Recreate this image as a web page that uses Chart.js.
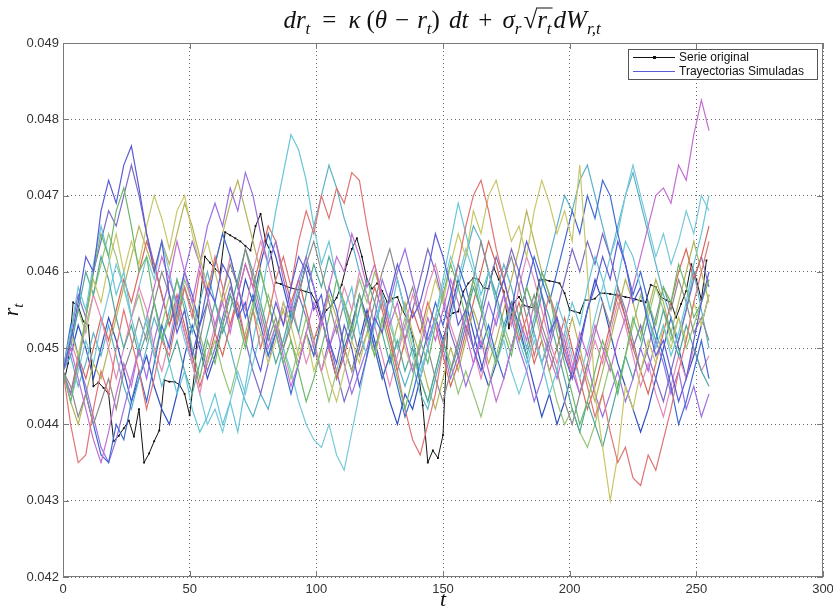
<!DOCTYPE html>
<html>
<head>
<meta charset="utf-8">
<script src="https://cdn.jsdelivr.net/npm/chart.js@4.4.1/dist/chart.umd.min.js"></script>
<style>
  html, body { margin: 0; padding: 0; background: #fff; }
  #c { display: block; }
</style>
</head>
<body>
<canvas id="c" width="833" height="608" style="width:833px;height:608px"></canvas>
<script>
// values are stored in units of 1e-5 (4470 -> 0.04470)
const VALUE_UNIT = 1e-5;
const STEP_ORIG = 2;   // t spacing of the original series samples
const STEP_SIM = 3;    // t spacing of the simulated trajectory samples

const X_TICKS = [0, 50, 100, 150, 200, 250, 300];
const Y_TICKS = [0.042, 0.043, 0.044, 0.045, 0.046, 0.047, 0.048, 0.049];

const serieOriginal = [
  4450,4480,4560,4555,4535,4530,4450,4455,4448,4440,
  4378,4385,4395,4405,4384,4420,4350,4362,4378,4392,
  4458,4456,4456,4452,4440,4412,4470,4560,4620,4612,
  4604,4598,4652,4648,4644,4640,4634,4628,4660,4676,
  4640,4626,4586,4584,4581,4579,4577,4576,4574,4572,
  4560,4537,4550,4556,4566,4583,4610,4630,4644,4620,
  4590,4578,4585,4575,4560,4565,4567,4550,4537,4515,
  4475,4425,4350,4366,4356,4386,4540,4546,4548,4574,
  4585,4592,4590,4579,4578,4606,4590,4574,4526,4560,
  4567,4556,4554,4553,4589,4590,4588,4587,4585,4572,
  4550,4548,4546,4563,4563,4565,4572,4572,4571,4570,
  4569,4567,4566,4564,4562,4560,4583,4580,4567,4563,
  4560,4540,4558,4575,4610,4590,4563,4615
];

const sim01 = [4470,4510,4560,4620,4600,4680,4720,4690,4740,4765,4710,4650,4600,4640,4570,4520,4550,4490,4530,4580,4560,4610,4590,4540,4560,4500,4470,4520,4560,4530,4580,4620,4600,4550,4570,4510,4480,4530,4500,4450,4490,4540,4520,4570,4610,4580,4540,4560,4600,4650,4620,4580,4530,4550,4500,4470,4510,4560,4590,4550,4600,4640,4610,4570,4520,4540,4490,4460,4500,4550,4580,4620,4590,4640,4610,4560,4580,4530,4490,4510,4470,4430,4460,4510,4560,4600];
const sim02 = [4470,4430,4480,4540,4600,4650,4620,4680,4710,4660,4600,4620,4560,4510,4540,4590,4550,4500,4460,4510,4480,4530,4570,4540,4500,4550,4600,4560,4520,4480,4510,4470,4430,4460,4500,4540,4590,4560,4520,4570,4530,4490,4540,4500,4460,4420,4460,4510,4480,4530,4570,4610,4580,4540,4590,4550,4510,4480,4520,4490,4540,4580,4550,4600,4570,4520,4480,4440,4400,4430,4470,4510,4480,4440,4490,4540,4510,4560,4530,4580,4560,4610,4580,4540,4560,4590];
const sim03 = [4470,4400,4350,4360,4420,4470,4440,4500,4550,4510,4470,4420,4460,4510,4490,4540,4580,4540,4600,4570,4620,4580,4530,4560,4510,4550,4500,4540,4590,4620,4580,4640,4680,4650,4700,4670,4710,4690,4730,4720,4660,4610,4560,4520,4470,4420,4380,4360,4400,4440,4500,4560,4610,4660,4700,4720,4680,4630,4590,4550,4510,4540,4490,4530,4570,4540,4500,4460,4490,4450,4410,4440,4390,4350,4370,4330,4320,4360,4340,4380,4420,4470,4510,4560,4600,4640];
const sim04 = [4470,4520,4580,4550,4610,4660,4620,4570,4600,4540,4500,4540,4490,4450,4480,4440,4470,4420,4390,4410,4440,4400,4430,4390,4450,4510,4560,4620,4680,4730,4780,4760,4720,4660,4610,4640,4590,4550,4580,4520,4490,4530,4570,4540,4590,4550,4510,4470,4500,4540,4590,4640,4690,4650,4610,4570,4600,4560,4520,4550,4510,4480,4520,4480,4440,4470,4520,4560,4530,4580,4620,4590,4550,4590,4640,4620,4580,4540,4500,4530,4490,4520,4560,4610,4650,4700];
const sim05 = [4470,4500,4460,4420,4380,4350,4390,4440,4480,4450,4500,4540,4580,4620,4590,4640,4600,4560,4610,4570,4530,4560,4520,4570,4610,4580,4540,4500,4530,4490,4450,4480,4520,4560,4530,4580,4620,4600,4650,4620,4580,4610,4570,4530,4560,4510,4470,4500,4540,4510,4550,4590,4560,4520,4480,4510,4470,4430,4460,4500,4540,4510,4560,4520,4490,4460,4500,4470,4520,4490,4530,4500,4470,4510,4540,4580,4620,4660,4700,4710,4690,4740,4720,4780,4825,4785];
const sim06 = [4470,4520,4490,4540,4590,4560,4610,4650,4600,4640,4610,4660,4700,4670,4630,4680,4700,4650,4610,4640,4600,4560,4590,4540,4510,4550,4520,4480,4510,4560,4530,4490,4520,4470,4500,4460,4430,4470,4510,4480,4520,4490,4530,4570,4540,4500,4470,4510,4550,4590,4560,4610,4650,4620,4680,4650,4700,4720,4680,4640,4660,4620,4680,4720,4690,4650,4680,4640,4740,4600,4440,4370,4300,4360,4450,4420,4470,4510,4480,4530,4500,4540,4510,4560,4530,4570];
const sim07 = [4470,4450,4410,4440,4400,4430,4460,4420,4470,4500,4540,4510,4560,4600,4570,4530,4580,4550,4510,4560,4520,4570,4610,4580,4630,4590,4550,4510,4540,4500,4530,4570,4610,4640,4600,4560,4520,4560,4530,4490,4520,4560,4600,4630,4590,4550,4580,4540,4500,4460,4430,4470,4510,4550,4590,4640,4600,4560,4590,4620,4580,4540,4570,4530,4500,4470,4430,4400,4440,4480,4520,4560,4530,4580,4550,4510,4470,4500,4540,4580,4550,4590,4560,4520,4540,4510];
const sim08 = [4470,4530,4490,4440,4400,4360,4350,4400,4380,4430,4470,4430,4480,4530,4500,4550,4600,4570,4530,4560,4610,4650,4620,4580,4540,4570,4530,4490,4520,4480,4440,4480,4520,4490,4540,4580,4550,4500,4530,4570,4540,4500,4460,4490,4450,4410,4440,4480,4520,4560,4530,4570,4610,4580,4540,4500,4530,4490,4460,4500,4540,4580,4620,4590,4560,4600,4640,4680,4650,4700,4670,4720,4700,4650,4610,4570,4600,4560,4520,4490,4450,4400,4430,4470,4510,4460];
const sim09 = [4470,4440,4480,4450,4410,4370,4350,4380,4420,4460,4500,4460,4510,4550,4590,4560,4600,4640,4610,4660,4690,4660,4710,4680,4730,4700,4650,4610,4640,4590,4550,4590,4620,4580,4540,4500,4530,4480,4440,4470,4500,4540,4590,4560,4600,4630,4590,4550,4510,4540,4500,4460,4490,4450,4480,4520,4560,4530,4570,4540,4500,4470,4430,4460,4500,4540,4510,4470,4440,4480,4440,4410,4440,4470,4430,4460,4500,4470,4510,4480,4440,4470,4420,4450,4410,4440];
const sim10 = [4470,4500,4550,4600,4570,4620,4590,4540,4500,4530,4490,4520,4560,4520,4480,4510,4470,4440,4480,4520,4560,4520,4550,4590,4630,4600,4560,4520,4480,4510,4550,4520,4570,4610,4580,4620,4590,4550,4510,4550,4590,4560,4520,4480,4510,4470,4500,4460,4430,4470,4510,4470,4500,4540,4580,4550,4600,4570,4530,4560,4520,4490,4530,4570,4540,4500,4460,4420,4390,4430,4400,4370,4410,4450,4490,4460,4500,4540,4510,4550,4520,4490,4530,4500,4470,4450];
const sim11 = [4470,4510,4480,4530,4570,4540,4500,4460,4500,4540,4580,4550,4500,4470,4510,4560,4520,4480,4440,4490,4530,4570,4620,4580,4550,4600,4640,4610,4570,4530,4560,4520,4480,4510,4470,4500,4540,4580,4550,4600,4570,4530,4490,4450,4490,4530,4570,4540,4580,4610,4570,4530,4500,4540,4500,4460,4500,4540,4570,4530,4580,4620,4590,4550,4510,4480,4520,4480,4440,4470,4510,4480,4520,4560,4530,4490,4450,4480,4440,4410,4450,4490,4460,4500,4470,4490];
const sim12 = [4470,4430,4470,4510,4480,4530,4570,4610,4580,4540,4580,4620,4590,4640,4600,4550,4510,4480,4440,4400,4420,4390,4430,4470,4440,4480,4520,4490,4530,4500,4470,4430,4400,4380,4370,4400,4360,4340,4390,4440,4490,4530,4570,4540,4500,4530,4490,4460,4500,4540,4580,4620,4590,4630,4600,4560,4520,4480,4510,4470,4440,4470,4510,4480,4520,4560,4530,4490,4460,4500,4540,4580,4620,4650,4700,4740,4700,4660,4620,4650,4610,4640,4680,4650,4700,4680];
const sim13 = [4470,4510,4550,4520,4570,4610,4650,4620,4580,4540,4570,4530,4490,4530,4570,4540,4590,4560,4520,4480,4510,4470,4440,4480,4520,4560,4530,4570,4540,4500,4460,4500,4540,4510,4470,4430,4470,4510,4550,4590,4560,4600,4570,4530,4500,4540,4500,4460,4430,4470,4510,4480,4440,4470,4440,4410,4450,4490,4530,4500,4540,4580,4550,4510,4470,4430,4400,4420,4390,4370,4400,4440,4480,4450,4490,4530,4570,4540,4580,4550,4510,4540,4500,4530,4560,4590];
const sim14 = [4470,4440,4490,4460,4500,4540,4510,4550,4590,4560,4600,4640,4610,4570,4530,4570,4530,4490,4450,4480,4520,4490,4530,4570,4610,4580,4620,4660,4640,4600,4560,4590,4550,4510,4540,4500,4460,4490,4530,4570,4540,4580,4550,4510,4470,4510,4550,4520,4560,4530,4490,4450,4480,4520,4560,4600,4640,4610,4570,4530,4560,4520,4480,4510,4470,4500,4540,4500,4460,4420,4450,4490,4530,4570,4540,4500,4470,4440,4480,4520,4560,4600,4630,4590,4620,4660];
const sim15 = [4470,4520,4570,4540,4600,4640,4680,4660,4700,4740,4700,4650,4610,4570,4530,4560,4520,4480,4510,4470,4500,4540,4580,4550,4510,4470,4440,4480,4520,4560,4530,4570,4540,4500,4470,4510,4470,4430,4460,4500,4540,4500,4530,4570,4540,4510,4550,4590,4630,4600,4560,4520,4490,4530,4500,4540,4580,4620,4590,4630,4600,4560,4520,4480,4510,4550,4590,4630,4600,4640,4610,4650,4620,4580,4540,4500,4530,4490,4460,4430,4470,4510,4550,4590,4620,4580];
const sim16 = [4470,4490,4450,4480,4520,4490,4530,4490,4450,4420,4460,4500,4540,4510,4550,4590,4560,4520,4560,4600,4560,4530,4500,4460,4430,4410,4440,4420,4460,4500,4540,4580,4620,4660,4700,4740,4710,4670,4640,4600,4570,4530,4560,4520,4480,4450,4480,4440,4420,4460,4500,4540,4580,4620,4660,4640,4600,4570,4610,4580,4540,4500,4540,4580,4620,4660,4700,4680,4720,4740,4700,4660,4620,4660,4700,4730,4690,4650,4610,4570,4540,4510,4550,4600,4550,4500];
const sim17 = [4470,4430,4400,4440,4480,4460,4500,4540,4580,4620,4660,4630,4600,4640,4610,4650,4690,4660,4620,4580,4610,4650,4690,4720,4680,4640,4600,4560,4520,4550,4510,4480,4520,4490,4530,4570,4540,4500,4470,4500,4540,4500,4460,4490,4530,4560,4520,4490,4450,4420,4460,4500,4470,4510,4550,4520,4480,4510,4550,4590,4630,4680,4640,4600,4570,4530,4500,4540,4500,4460,4430,4470,4510,4550,4590,4560,4520,4550,4590,4560,4520,4560,4600,4640,4600,4560];
const sim18 = [4470,4490,4530,4500,4460,4500,4540,4510,4470,4430,4460,4490,4450,4420,4400,4440,4490,4530,4500,4460,4490,4530,4570,4540,4590,4560,4610,4650,4620,4580,4540,4570,4610,4580,4540,4500,4460,4500,4470,4510,4550,4510,4470,4430,4400,4440,4420,4460,4500,4540,4510,4550,4590,4560,4520,4480,4450,4480,4520,4560,4530,4490,4450,4410,4440,4400,4430,4470,4510,4550,4590,4560,4520,4480,4450,4420,4390,4420,4460,4500,4540,4500,4460,4490,4530,4570];

const simSeries = [sim01, sim02, sim03, sim04, sim05, sim06, sim07, sim08, sim09,
                   sim10, sim11, sim12, sim13, sim14, sim15, sim16, sim17, sim18];
const simColors = ['#5b5bd6', '#6db86d', '#e07474', '#66c6d8', '#c36fd3', '#c9c66a',
                   '#8c8c8c', '#3f6ad2', '#9b70e0', '#4fa899', '#e38bb8', '#79c9d9',
                   '#97c477', '#d8675a', '#7d6cc4', '#5cb2c8', '#b4b35a', '#3050c2'];

const LEGEND_LABELS = ['Serie original', 'Trayectorias Simuladas'];

// title formula pieces: [text, style, underRadical]; style 'g' is a gap in px
const TITLE_PARTS = [
  ['dr', 'i'], ['t', 's'], [12, 'g'], ['=', 'r'], [12, 'g'], ['\u03BA', 'i'], [6, 'g'],
  ['(', 'r'], ['\u03B8', 'i'], [8, 'g'], ['\u2212', 'r'], [8, 'g'], ['r', 'i'], ['t', 's'],
  [')', 'r'], [9, 'g'], ['dt', 'i'], [10, 'g'], ['+', 'r'], [10, 'g'],
  ['\u03C3', 'i'], ['r', 's'], [2, 'g'], ['\u221A', 'r'], ['r', 'i', true], ['t', 's', true],
  [2, 'g'], ['dW', 'i'], ['r,t', 's']
];

const toPoints = (arr, step) => arr.map((v, i) => ({ x: i * step, y: v * VALUE_UNIT }));

const SERIF = '"Liberation Serif", "DejaVu Serif", serif';
const SANS = '"Liberation Sans", Arial, sans-serif';

function drawRich(ctx, parts, cx, baseY, big, small) {
  const fonts = {
    i: `italic ${big}px ${SERIF}`,
    r: `${big}px ${SERIF}`,
    s: `italic ${small}px ${SERIF}`
  };
  let w = 0;
  const items = parts.map(([txt, st, bar]) => {
    let m;
    if (st === 'g') {
      m = txt;
    } else {
      ctx.font = fonts[st];
      m = ctx.measureText(txt).width;
    }
    const it = { txt, st, bar, x: w, w: m };
    w += m;
    return it;
  });
  const x0 = cx - w / 2;
  ctx.textAlign = 'left';
  ctx.textBaseline = 'alphabetic';
  let barStart = null, barEnd = null;
  items.forEach(it => {
    if (it.st === 'g') return;
    ctx.font = fonts[it.st];
    ctx.fillText(it.txt, x0 + it.x, baseY + (it.st === 's' ? big * 0.22 : 0));
    if (it.bar) {
      if (barStart === null) barStart = x0 + it.x;
      barEnd = x0 + it.x + it.w;
    }
  });
  if (barStart !== null) {
    ctx.lineWidth = 1;
    ctx.beginPath();
    ctx.moveTo(barStart - 1, baseY - big * 0.8);
    ctx.lineTo(barEnd + 1, baseY - big * 0.8);
    ctx.stroke();
  }
}

const decorPlugin = {
  id: 'decor',
  afterDraw(chart) {
    const { ctx, chartArea: a, scales: { x, y } } = chart;
    ctx.save();

    // axes box and inward tick marks
    ctx.strokeStyle = '#7a7a7a';
    ctx.lineWidth = 1;
    ctx.strokeRect(a.left + 0.5, a.top + 0.5, a.right - a.left - 1, a.bottom - a.top - 1);
    ctx.beginPath();
    x.ticks.forEach(t => {
      const px = Math.round(x.getPixelForValue(t.value)) + 0.5;
      ctx.moveTo(px, a.bottom); ctx.lineTo(px, a.bottom - 6);
      ctx.moveTo(px, a.top); ctx.lineTo(px, a.top + 6);
    });
    y.ticks.forEach(t => {
      const py = Math.round(y.getPixelForValue(t.value)) + 0.5;
      ctx.moveTo(a.left, py); ctx.lineTo(a.left + 6, py);
      ctx.moveTo(a.right, py); ctx.lineTo(a.right - 6, py);
    });
    ctx.stroke();

    // title
    ctx.fillStyle = '#111';
    ctx.strokeStyle = '#111';
    drawRich(ctx, TITLE_PARTS, 442, 28, 25, 17);

    // axis labels
    drawRich(ctx, [['t', 'i']], (a.left + a.right) / 2, 606, 22, 15);
    ctx.save();
    ctx.translate(18, (a.top + a.bottom) / 2);
    ctx.rotate(-Math.PI / 2);
    drawRich(ctx, [['r', 'i'], ['t', 's']], 0, 0, 22, 15);
    ctx.restore();

    // legend
    const lw = 189, lh = 30;
    const lx = a.right - 6 - lw, ly = a.top + 6;
    ctx.fillStyle = '#fff';
    ctx.fillRect(lx, ly, lw, lh);
    ctx.strokeStyle = '#555';
    ctx.strokeRect(lx + 0.5, ly + 0.5, lw, lh);
    const rows = [ly + 8, ly + 22];
    const colors = ['#111', simColors[0]];
    ctx.font = `12px ${SANS}`;
    ctx.textBaseline = 'middle';
    ctx.textAlign = 'left';
    rows.forEach((ry, i) => {
      ctx.strokeStyle = colors[i];
      ctx.lineWidth = 1.2;
      ctx.beginPath();
      ctx.moveTo(lx + 5, ry + 0.5); ctx.lineTo(lx + 47, ry + 0.5);
      ctx.stroke();
      if (i === 0) {
        ctx.fillStyle = '#111';
        ctx.fillRect(lx + 25, ry - 1, 3, 3);
      }
      ctx.fillStyle = '#111';
      ctx.fillText(LEGEND_LABELS[i], lx + 51, ry + 1);
    });
    ctx.restore();
  }
};

const datasets = [{
  label: LEGEND_LABELS[0],
  data: toPoints(serieOriginal, STEP_ORIG),
  borderColor: '#111',
  backgroundColor: '#111',
  borderWidth: 1,
  pointRadius: 1.3,
  pointStyle: 'rect',
  pointBorderWidth: 0,
  order: 1
}].concat(simSeries.map((s, i) => ({
  label: LEGEND_LABELS[1],
  data: toPoints(s, STEP_SIM),
  borderColor: simColors[i],
  borderWidth: 1.2,
  pointRadius: 0,
  order: 0
})));

new Chart(document.getElementById('c').getContext('2d'), {
  type: 'line',
  data: { datasets },
  plugins: [decorPlugin],
  options: {
    responsive: false,
    animation: false,
    events: [],
    layout: { padding: { top: 43, right: 10, left: 0, bottom: 0 } },
    elements: { line: { tension: 0 } },
    plugins: { legend: { display: false }, tooltip: { enabled: false }, title: { display: false } },
    scales: {
      x: {
        type: 'linear',
        min: 0, max: 300,
        afterFit: s => { s.height = 31; s.paddingLeft = 0; s.paddingRight = 0; },
        afterBuildTicks: s => { s.ticks = X_TICKS.map(v => ({ value: v })); },
        grid: { color: '#6a6a6a', lineWidth: 1, drawTicks: false },
        border: { display: false, dash: [1, 3] },
        ticks: { padding: 5, color: '#333', font: { family: SANS, size: 13 }, maxRotation: 0 }
      },
      y: {
        type: 'linear',
        min: 0.042, max: 0.049,
        afterFit: s => { s.width = 63; s.paddingTop = 0; s.paddingBottom = 0; },
        afterBuildTicks: s => { s.ticks = Y_TICKS.map(v => ({ value: v })); },
        grid: { color: '#6a6a6a', lineWidth: 1, drawTicks: false },
        border: { display: false, dash: [1, 3] },
        ticks: {
          padding: 4, color: '#333', font: { family: SANS, size: 13 },
          callback: v => v.toFixed(3)
        }
      }
    }
  }
});
</script>
</body>
</html>
